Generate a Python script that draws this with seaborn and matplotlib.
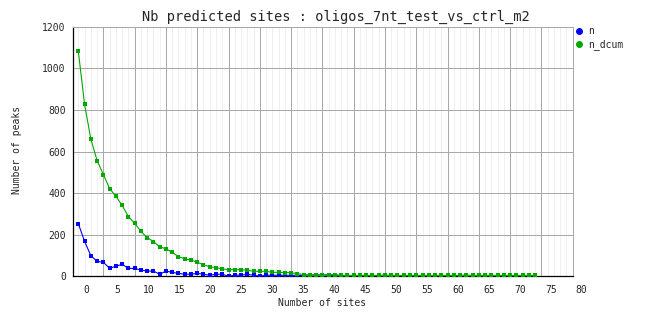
import matplotlib
matplotlib.use("Agg")
import matplotlib.pyplot as plt
import matplotlib.transforms as mtransforms
from matplotlib.lines import Line2D
import seaborn as sns
import pandas as pd
import numpy as np

# ---- data ----
title = "Nb predicted sites : oligos_7nt_test_vs_ctrl_m2"
x_label = "Number of sites"
y_label = "Number of peaks"
series_names = ["n", "n_dcum"]
colors = ["#0000ff", "#00a800"]

x_n = list(range(-1, 72))
n = [253, 168, 99, 72, 67, 39, 48, 58, 38, 38,
     30, 25, 25, 10, 25, 19, 14, 10, 10, 14,
     10, 5, 10, 10, 0, 5, 5, 10, 5, 0,
     5, 5, 5, 5, 5, 5, 3, 0, 3, 0,
     3, 3, 3, 0, 2, 0, 0, 0, 0, 0,
     0, 0, 0, 0, 0, 0, 0, 0, 0, 0,
     0, 0, 0, 0, 0, 0, 0, 0, 0, 0,
     0, 0, 0]

x_dcum = list(range(-1, 73))
n_dcum = [1081, 826, 659, 556, 489, 422, 385, 341, 287, 255,
          216, 186, 167, 141, 133, 115, 95, 84, 78, 68,
          55, 46, 42, 36, 32, 32, 32, 29, 24, 24,
          24, 19, 19, 18, 17, 13, 8, 8, 8, 8,
          8, 8, 4, 4, 4, 4, 4, 4, 4, 6,
          4, 4, 4, 4, 4, 4, 4, 4, 4, 4,
          4, 4, 6, 4, 4, 4, 4, 4, 4, 4,
          4, 4, 4, 4]

x_ticks = list(range(0, 85, 5))
y_ticks = list(range(0, 1400, 200))

# ---- figure ----
sns.set_style("white")
plt.rcParams["font.family"] = ["DejaVu Sans Mono"]

fig = plt.figure(figsize=(6.62, 3.28), dpi=100)
ax = fig.add_axes([72.7 / 662, 1 - 276.3 / 328, 500 / 662, (276.3 - 26.7) / 328])

df_n = pd.DataFrame({"x": x_n, "y": n})
df_d = pd.DataFrame({"x": x_dcum, "y": n_dcum})

sns.lineplot(data=df_n, x="x", y="y", ax=ax, color=colors[0], marker="s",
             markersize=3.0, markeredgewidth=0, linewidth=0.8, zorder=3)
sns.lineplot(data=df_d, x="x", y="y", ax=ax, color=colors[1], marker="s",
             markersize=3.0, markeredgewidth=0, linewidth=0.8, zorder=4)

ax.set_xlim(-1.9, 78)
ax.set_ylim(0, 1200)

# grid
major_v = list(range(3, 78, 5))
minor_v = [v for v in range(-1, 78) if v not in major_v]
for v in minor_v:
    ax.axvline(v, color="#efefef", linewidth=0.72, zorder=0)
for v in major_v:
    ax.axvline(v, color="#a8a8a8", linewidth=0.72, zorder=1)
for h in y_ticks[1:]:
    ax.axhline(h, color="#a8a8a8", linewidth=0.72, zorder=1)

ax.set_yticks(y_ticks)
ax.set_yticklabels([str(t) for t in y_ticks], fontsize=7)
ax.tick_params(axis="y", length=0, pad=5)
ax.set_xticks([])

# x labels (GD-style spacing, slightly narrower than data spacing)
lab_trans = mtransforms.blended_transform_factory(fig.transFigure, ax.transAxes)
for i, t in enumerate(x_ticks):
    px = 86.7 + i * 30.94
    ax.text(px / 662, -0.035, str(t), transform=lab_trans, ha="center", va="top",
            fontsize=7, clip_on=False)

for s in ["left", "bottom"]:
    ax.spines[s].set_color("black")
    ax.spines[s].set_linewidth(0.9)
for s in ["top", "right"]:
    ax.spines[s].set_color("#a8a8a8")
    ax.spines[s].set_linewidth(0.72)

ax.set_xlabel("")
ax.set_ylabel("")
fig.text(322 / 662, 1 - 303 / 328, x_label, ha="center", va="center", fontsize=7)
fig.text(17.5 / 662, 1 - 150 / 328, y_label, ha="center", va="center",
         rotation=90, fontsize=7)
fig.text(336 / 662, 1 - 17 / 328, title, ha="center", va="center", fontsize=9.8)

handles = [Line2D([], [], color=c, marker="o", linestyle="none", markersize=4)
           for c in colors]
leg = fig.legend(handles, series_names, loc="upper left",
                 bbox_to_anchor=(575 / 662, 1 - 26 / 328), frameon=False,
                 fontsize=7, handlelength=0.8, handletextpad=0.6,
                 labelspacing=0.35, borderaxespad=0, borderpad=0)

fig.savefig("out.png", dpi=100)
